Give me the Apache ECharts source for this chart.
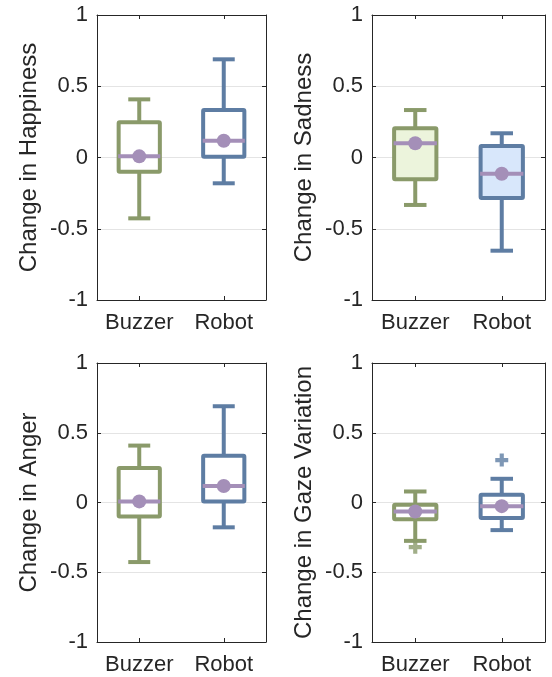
<!DOCTYPE html>
<html>
<head>
<meta charset="utf-8">
<script src="https://cdn.jsdelivr.net/npm/echarts@6/dist/echarts.min.js"></script>
<style>
html,body{margin:0;padding:0;background:#fff;}
#chart{width:552px;height:677px;}
</style>
</head>
<body>
<div id="chart"></div>
<script>
// ---- data: [lower whisker, Q1, median, Q3, upper whisker] ----
const categories = ['Buzzer', 'Robot'];
const yTicks = [-1, -0.5, 0, 0.5, 1];

const happinessBuzzer = [-0.427, -0.100, 0.008, 0.247, 0.408];
const happinessRobot  = [-0.181, 0.006, 0.118, 0.333, 0.689];
const happinessMean   = [0.008, 0.118];

const sadnessBuzzer = [-0.333, -0.153, 0.100, 0.205, 0.333];
const sadnessRobot  = [-0.654, -0.284, -0.114, 0.081, 0.170];
const sadnessMean   = [0.100, -0.114];

const angerBuzzer = [-0.427, -0.100, 0.008, 0.247, 0.408];
const angerRobot  = [-0.178, 0.008, 0.118, 0.336, 0.690];
const angerMean   = [0.008, 0.118];

const gazeBuzzer = [-0.275, -0.120, -0.064, -0.016, 0.079];
const gazeRobot  = [-0.198, -0.112, -0.026, 0.055, 0.170];
const gazeMean   = [-0.064, -0.026];
const gazeOutliersBuzzer = [-0.320];
const gazeOutliersRobot  = [0.304];

const panelNames = ['Change in Happiness', 'Change in Sadness', 'Change in Anger', 'Change in Gaze Variation'];

// ---- styles ----
const FONT = '"Liberation Sans", Arial, Helvetica, sans-serif';
const TXT = '#262626';
const EDGE = ['#8A9A6A', '#5E7DA3'];
const PURPLE = '#A48FB8';
const FILL_NONE = ['rgba(0,0,0,0)', 'rgba(0,0,0,0)'];
const FILL_SAD = ['#ECF4DC', '#D8E7FB'];

const grids = [
  {left: 97, top: 15, width: 169, height: 285},
  {left: 372, top: 15, width: 173, height: 285},
  {left: 97, top: 363, width: 169, height: 279},
  {left: 372, top: 363, width: 173, height: 279}
];

function makeRender(fills) {
  return function (params, api) {
    const ci = api.value(0);
    const low = api.coord([ci, api.value(1)]);
    const q1 = api.coord([ci, api.value(2)]);
    const med = api.coord([ci, api.value(3)]);
    const q3 = api.coord([ci, api.value(4)]);
    const high = api.coord([ci, api.value(5)]);
    const band = api.size([1, 0])[0];
    const cx = low[0];
    const outer = band * 0.535;
    const bw = outer - 4;
    const cw = band * 0.26;
    const c = EDGE[ci];
    const ls = {stroke: c, lineWidth: 4};
    return {
      type: 'group',
      children: [
        {type: 'line', shape: {x1: cx, y1: high[1], x2: cx, y2: q3[1]}, style: ls},
        {type: 'line', shape: {x1: cx, y1: q1[1], x2: cx, y2: low[1]}, style: ls},
        {type: 'line', shape: {x1: cx - cw / 2, y1: high[1], x2: cx + cw / 2, y2: high[1]}, style: ls},
        {type: 'line', shape: {x1: cx - cw / 2, y1: low[1], x2: cx + cw / 2, y2: low[1]}, style: ls},
        {type: 'rect', shape: {x: cx - bw / 2, y: q3[1], width: bw, height: q1[1] - q3[1], r: 1},
          style: {fill: fills[ci], stroke: c, lineWidth: 4}},
        {type: 'line', shape: {x1: cx - (outer - 3) / 2, y1: med[1], x2: cx + (outer - 3) / 2, y2: med[1]},
          style: {stroke: PURPLE, lineWidth: 4}}
      ]
    };
  };
}

const xAxes = [], yAxes = [], series = [];
grids.forEach((g, i) => {
  xAxes.push({
    gridIndex: i, type: 'category', data: categories, position: 'bottom',
    axisLine: {show: true, onZero: false, lineStyle: {color: TXT, width: 1}},
    axisTick: {show: true, inside: true, alignWithLabel: true, length: 4, lineStyle: {color: TXT}},
    axisLabel: {color: TXT, fontSize: 22, fontFamily: FONT, margin: 12, interval: 0}
  });
  yAxes.push({
    gridIndex: i, type: 'value', min: yTicks[0], max: yTicks[yTicks.length - 1], interval: 0.5,
    position: 'left',
    name: panelNames[i], nameLocation: 'middle', nameGap: 56,
    nameTextStyle: {color: TXT, fontSize: 24, fontFamily: FONT},
    axisLine: {show: true, onZero: false, lineStyle: {color: TXT, width: 1}},
    axisTick: {show: true, inside: true, length: 4, lineStyle: {color: TXT}},
    axisLabel: {color: TXT, fontSize: 22, fontFamily: FONT, margin: 9},
    splitLine: {show: true, lineStyle: {color: '#E4E4E4', width: 1}}
  });
});
grids.forEach((g, i) => {
  xAxes.push({
    gridIndex: i, type: 'category', data: categories, position: 'top',
    axisLine: {show: true, onZero: false, lineStyle: {color: TXT, width: 1}},
    axisTick: {show: true, inside: true, alignWithLabel: true, length: 4, lineStyle: {color: TXT}},
    axisLabel: {show: false}
  });
  yAxes.push({
    gridIndex: i, type: 'value', min: -1, max: 1, interval: 0.5, position: 'right',
    axisLine: {show: true, onZero: false, lineStyle: {color: TXT, width: 1}},
    axisTick: {show: true, inside: true, length: 4, lineStyle: {color: TXT}},
    axisLabel: {show: false}, splitLine: {show: false}
  });
});

const panels = [
  {b: happinessBuzzer, r: happinessRobot, m: happinessMean, fills: FILL_NONE},
  {b: sadnessBuzzer, r: sadnessRobot, m: sadnessMean, fills: FILL_SAD},
  {b: angerBuzzer, r: angerRobot, m: angerMean, fills: FILL_NONE},
  {b: gazeBuzzer, r: gazeRobot, m: gazeMean, fills: FILL_NONE}
];

panels.forEach((p, i) => {
  series.push({
    type: 'custom', xAxisIndex: i, yAxisIndex: i, z: 2,
    renderItem: makeRender(p.fills),
    encode: {x: 0, y: [1, 2, 3, 4, 5]},
    data: [[0].concat(p.b), [1].concat(p.r)],
    silent: true
  });
  series.push({
    type: 'scatter', xAxisIndex: i, yAxisIndex: i, z: 3,
    symbol: 'circle', symbolSize: 14,
    itemStyle: {color: PURPLE, opacity: 1},
    data: p.m.map((v, k) => [k, v]),
    silent: true
  });
});

const PLUS = 'path://M3.4,0H6.6V3.4H10V6.6H6.6V10H3.4V6.6H0V3.4H3.4Z';
series.push({
  type: 'scatter', xAxisIndex: 3, yAxisIndex: 3, z: 3,
  symbol: PLUS, symbolSize: 13,
  data: gazeOutliersBuzzer.map(v => ({value: [0, v], itemStyle: {color: EDGE[0]}}))
    .concat(gazeOutliersRobot.map(v => ({value: [1, v], itemStyle: {color: EDGE[1]}}))),
  silent: true
});

const chart = echarts.init(document.getElementById('chart'), null, {renderer: 'canvas'});
chart.setOption({
  animation: false,
  backgroundColor: '#ffffff',
  textStyle: {fontFamily: FONT},
  grid: grids.map(g => Object.assign({containLabel: false}, g)),
  xAxis: xAxes,
  yAxis: yAxes,
  series: series
});
</script>
</body>
</html>
